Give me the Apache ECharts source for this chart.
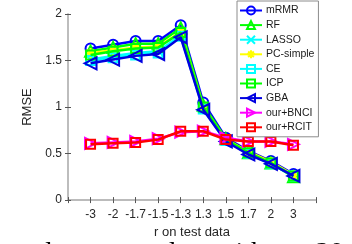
<!DOCTYPE html>
<html><head><meta charset="utf-8">
<script src="https://cdn.jsdelivr.net/npm/echarts@6/dist/echarts.min.js"></script>
<style>html,body{margin:0;padding:0;background:#fff;}#c{width:352px;height:244px;}</style>
</head><body><div id="c"></div>
<script>
var xLabels = ['-3','-2','-1.7','-1.5','-1.3','1.3','1.5','1.7','2','3'];
var yTicks = [0, 0.5, 1, 1.5, 2];
var names = ['mRMR','RF','LASSO','PC-simple','CE','ICP','GBA','our+BNCI','our+RCIT'];
var mRMR    = [1.63,1.67,1.71,1.71,1.88,1.05,0.67,0.53,0.42,0.28];
var RF      = [1.60,1.64,1.68,1.68,1.85,1.02,0.66,0.51,0.40,0.25];
var LASSO   = [1.51,1.55,1.58,1.60,1.77,0.98,0.64,0.50,0.40,0.27];
var PCsimple= [1.58,1.61,1.64,1.65,1.81,1.00,0.65,0.52,0.41,0.27];
var CE      = [1.50,1.53,1.56,1.58,1.76,0.98,0.64,0.50,0.39,0.26];
var ICP     = [1.56,1.60,1.63,1.64,1.80,1.00,0.65,0.51,0.40,0.26];
var GBA     = [1.47,1.51,1.55,1.57,1.75,0.97,0.63,0.49,0.39,0.26];
var BNCI    = [0.61,0.62,0.63,0.66,0.73,0.74,0.67,0.63,0.63,0.60];
var RCIT    = [0.60,0.61,0.62,0.65,0.74,0.74,0.65,0.63,0.63,0.59];
var seriesValues = [mRMR,RF,LASSO,PCsimple,CE,ICP,GBA,BNCI,RCIT];
var colors = ['#0000ff','#00ff00','#00ffff','#ffff00','#00ffff','#00ff00','#0000e0','#ff00ff','#ff0000'];
var symbols = ['circle','triangle','path://M0,0L10,10M10,0L0,10',
  'path://M0,5L10,5M5,0L5,10M1.5,1.5L8.5,8.5M8.5,1.5L1.5,8.5',
  'rect','rect','path://M0,5L10,0L10,10Z','path://M10,5L0,0L0,10Z','rect'];
var sizes = [10,11,9,10,9,9,12,11,9];

var axisColor = '#b8b8b8';
var textColor = '#262626';
var font = 'Liberation Sans, Arial, sans-serif';

var series = names.map(function(n,i){
  return {
    name:n, type:'line', z: 2+i,
    data: seriesValues[i].map(function(v,k){return [k+1,v];}),
    symbol: symbols[i], symbolSize: sizes[i],
    showAllSymbol:true,
    lineStyle:{color:colors[i], width:2.5},
    itemStyle:{color:'rgba(255,255,255,0)', borderColor:colors[i], borderWidth:2},
    emphasis:{disabled:true}, animation:false
  };
});

var chart = echarts.init(document.getElementById('c'), null, {renderer:'canvas'});
chart.setOption({
  animation:false,
  grid:{left:68, right:36, top:14, bottom:43},
  xAxis:[{
    type:'value', min:0, max:11, interval:1,
    name:'r on test data', nameLocation:'middle', nameGap:22,
    nameTextStyle:{color:textColor, fontSize:13, fontFamily:font},
    axisLine:{lineStyle:{color:axisColor, width:1.5}},
    axisTick:{inside:true, length:3, lineStyle:{color:'#555'}},
    splitLine:{show:false},
    axisLabel:{color:textColor, fontSize:12, fontFamily:font, margin:9,
      formatter:function(v){ return (v>=1 && v<=10) ? xLabels[v-1] : ''; }}
  },{
    type:'value', min:0, max:11, interval:1, position:'top',
    axisLine:{show:true, lineStyle:{color:axisColor, width:1.5}},
    axisTick:{show:true, inside:true, length:3, lineStyle:{color:'#555'}},
    axisLabel:{show:false}, splitLine:{show:false}
  }],
  yAxis:[{
    type:'value', min:0, max:2, interval:0.5,
    name:'RMSE', nameLocation:'middle', nameGap:28,
    nameTextStyle:{color:textColor, fontSize:13, fontFamily:font},
    axisLine:{show:true, lineStyle:{color:axisColor, width:1.5}},
    axisTick:{show:true, inside:true, length:3, lineStyle:{color:'#555'}},
    splitLine:{show:false},
    axisLabel:{color:textColor, fontSize:12, fontFamily:font, margin:6,
      formatter:function(v){ var s = yTicks.indexOf(v); return s>=0 ? String(v) : ''; }}
  },{
    type:'value', min:0, max:2, interval:0.5, position:'right',
    axisLine:{show:true, lineStyle:{color:axisColor, width:1.5}},
    axisTick:{show:true, inside:true, length:3, lineStyle:{color:'#555'}},
    axisLabel:{show:false}, splitLine:{show:false}
  }],
  legend:{
    data:names, orient:'vertical', left:237, top:1,
    padding:[4,4,4,2], itemWidth:22, itemHeight:10, itemGap:3.6,
    borderColor:'#8c8c8c', borderWidth:1, backgroundColor:'#fff',
    textStyle:{color:'#1a1a1a', fontSize:10.5, fontFamily:font, padding:[0,0,0,-1]},
    selectedMode:false, z:20
  },
  graphic:[{
    type:'text', left:38, top:240, z:30,
    style:{text:'d over test data with n = 20', fill:'#000',
      font:'28px "Liberation Serif", "Times New Roman", serif'}
  }],
  series:series
});
</script></body></html>
